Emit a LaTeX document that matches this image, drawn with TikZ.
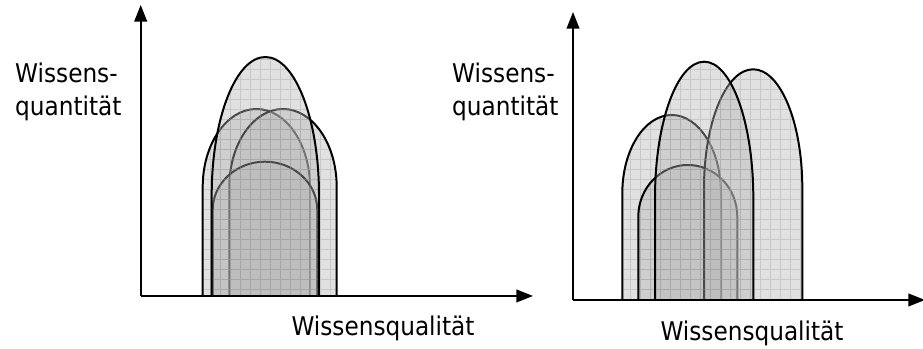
\documentclass[tikz,border=0pt]{standalone}
\usepackage{fontspec}
\setmainfont{DejaVu Sans Condensed}
\usepackage{tikz}
\usetikzlibrary{arrows.meta}
\definecolor{cShade}{HTML}{B4B4B4}
\definecolor{cGrid}{HTML}{9A9A9A}

\begin{document}
\begin{tikzpicture}[x=0.03cm,y=0.03cm,font=\fontsize{22}{27.5}\selectfont,
  axis/.style={line width=1.7pt,-{Triangle[length=0.5cm,width=0.38cm]}},
  domefill/.style={fill=cShade,fill opacity=0.4},
  domegrid/.style={draw=cGrid,opacity=0.35,line width=0.5pt},
  domeline/.style={draw=black,line width=1.7pt},
  label/.style={inner sep=0pt,align=left}]
  \useasboundingbox (0,0) rectangle (923,349);
  % #1 left, #2 right, #3 top, #4 start of the arc, #5 base
  \def\dome#1#2#3#4#5{%
    \fill[domefill] (#1,#5) -- (#1,#4) arc[start angle=180,end angle=0,x radius={(#2-#1)/2},y radius={#3-#4}] -- (#2,#5) -- cycle;
    \begin{scope}
      \clip (#1,#5) -- (#1,#4) arc[start angle=180,end angle=0,x radius={(#2-#1)/2},y radius={#3-#4}] -- (#2,#5) -- cycle;
      \draw[domegrid,step=10] (0,0) grid (923,349);
    \end{scope}
    \draw[domeline] (#1,#5) -- (#1,#4) arc[start angle=180,end angle=0,x radius={(#2-#1)/2},y radius={#3-#4}] -- (#2,#5);
  }

  % left diagram
  \dome{202.7}{310}{240}{162}{53}
  \dome{229.3}{336.7}{240}{162}{53}
  \dome{212.7}{317.3}{187.3}{139}{53}
  \dome{211.7}{319}{292}{154}{53}
  \coordinate (oL) at (140.7,53);
  \coordinate (yL) at (140.7,344);
  \coordinate (xL) at (533,53);
  \draw[axis] (oL) -- (yL);
  \draw[axis] (oL) -- (xL);
  \node[label,anchor=north west] (qtyL) at (15,286) {Wissens-\\quantität};
  \node[label,anchor=base] (qualL) at (383,13) {Wissensqualität};

  % right diagram
  \dome{622.3}{721}{234}{155.7}{49}
  \dome{638.3}{737.3}{184}{132.3}{49}
  \dome{704}{802.3}{279.7}{161}{49}
  \dome{655}{753.3}{287.3}{151}{49}
  \coordinate (oR) at (573,49);
  \coordinate (yR) at (573,337);
  \coordinate (xR) at (925,49);
  \draw[axis] (oR) -- (yR);
  \draw[axis] (oR) -- (xR);
  \node[label,anchor=north west] (qtyR) at (452,286) {Wissens-\\quantität};
  \node[label,anchor=base] (qualR) at (752,8) {Wissensqualität};
\end{tikzpicture}
\end{document}
